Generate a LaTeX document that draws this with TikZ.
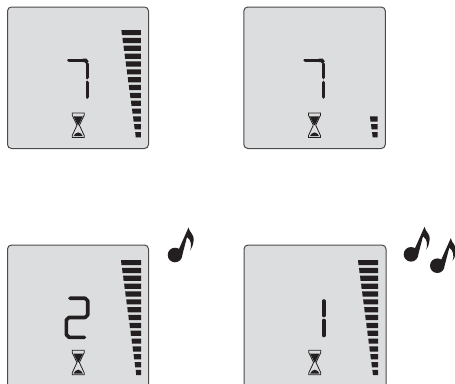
\documentclass[tikz,border=0pt]{standalone}
\tikzset{
  x=1pt,y=-1pt,
  panel/.style={fill=panelgray,draw=panelline,line width=1pt,rounded corners=4pt},
  seg/.style={line width=3.6pt,line cap=round,draw=inkblack},
  bar/.style={fill=inkblack,draw=none},
  glass/.style={draw=inkblack,line width=.8pt,line join=miter,fill=panelgray},
  sand/.style={fill=inkblack,draw=none},
  notefill/.style={fill=inkblack,draw=none}
}
\definecolor{panelgray}{HTML}{DCDDDE}
\definecolor{panelline}{HTML}{4A4A4C}
\definecolor{inkblack}{HTML}{231F20}
\newcommand{\hglass}[2]{%
  \begin{scope}[shift={(#1,#2)}]
    \draw[glass] (0,0)--(12,0)--(12,2.2)--(7.2,12.2)--(12,22.5)--(12,24.5)--(0,24.5)--(0,22.5)--(4.8,12.2)--(0,2.2)--cycle;
    \fill[sand] (1.3,3.4)--(10.7,3.4)--(6.4,12)--(5.6,12)--cycle;
    \fill[sand] (1.4,23.2)--(3.2,20.6)--(6,19.4)--(8.8,20.6)--(10.6,23.2)--cycle;
  \end{scope}}
\newcommand{\barsrow}[6]{%
  \pgfmathsetmacro{\slope}{(#4-#3)/(#6-1)}%
  \foreach \i in {#5,...,#6}{%
    \pgfmathsetmacro{\yy}{#2+(\i-1)*7.85}%
    \pgfmathsetmacro{\xa}{#3+(\i-1)*\slope}%
    \fill[bar] (\xa,\yy)--(#1,\yy)--(#1,\yy+5.2)--(\xa+.5,\yy+5.2)--cycle;}}
\newcommand{\note}[2]{%
  \begin{scope}[shift={(#1,#2)}]
    \fill[notefill] (0,0) circle[radius=7.3pt];
    \fill[notefill] (3.5,-5)--(13.5,-27.5)
      .. controls (14.5,-22) and (19.5,-21) .. (18.5,-14)
      .. controls (18,-10) and (17,-7) .. (15.2,-4.5)
      .. controls (16.8,-9) and (16.5,-15) .. (12,-18)
      -- (7.3,0) -- cycle;
  \end{scope}}
\begin{document}
\begin{tikzpicture}
\useasboundingbox (0,0) rectangle (455,383);
\fill[white] (0,0) rectangle (455,383);
% panels
\path[panel] (7.5,7) rectangle (148.5,148.5);
\path[panel] (243.8,7) rectangle (385.3,148.5);
\begin{scope}
\clip (0,240) rectangle (455,383);
\path[panel] (7.5,245) rectangle (148.5,400);
\path[panel] (244,245) rectangle (386,400);
\end{scope}
% digit 7 left
\draw[seg] (69,60.3)--(82.5,60.3);
\draw[seg,line cap=butt] (82.5,60.3)--(85.5,60.3)--(87.3,62.5);
\draw[seg] (87.3,64)--(87.3,77.5);
\draw[seg] (87.3,82.5)--(87.3,97);
% digit 7 right
\draw[seg] (305.2,60.3)--(318.7,60.3);
\draw[seg,line cap=butt] (318.7,60.3)--(321.7,60.3)--(323.5,62.5);
\draw[seg] (323.5,64)--(323.5,77.5);
\draw[seg] (323.5,82.5)--(323.5,97);
% digit 2
\draw[seg,line join=round] (70,298.2)--(85,298.2)--(87.7,300.8)--(87.7,315)--(85,317.5)--(69,317.5)--(66.3,320)--(66.3,334.5)--(69,337.3)--(84.5,337.3);
% digit 1
\draw[seg] (323.7,301)--(323.7,315.5);
\draw[seg] (323.7,320.5)--(323.7,335.5);
% hourglasses
\hglass{72.2}{113}
\hglass{308.5}{113}
\hglass{72.2}{350.3}
\hglass{308.8}{350.3}
% bars
\barsrow{140.8}{30}{121.4}{135.2}{1}{14}
\barsrow{377.7}{30}{358.3}{372.1}{12}{14}
\barsrow{141}{260}{121}{135.7}{1}{15}
\barsrow{378.2}{260}{358}{372.4}{1}{15}
% notes
\note{175}{255}
\note{411}{254.3}
\note{437.3}{265.7}
\end{tikzpicture}
\end{document}
